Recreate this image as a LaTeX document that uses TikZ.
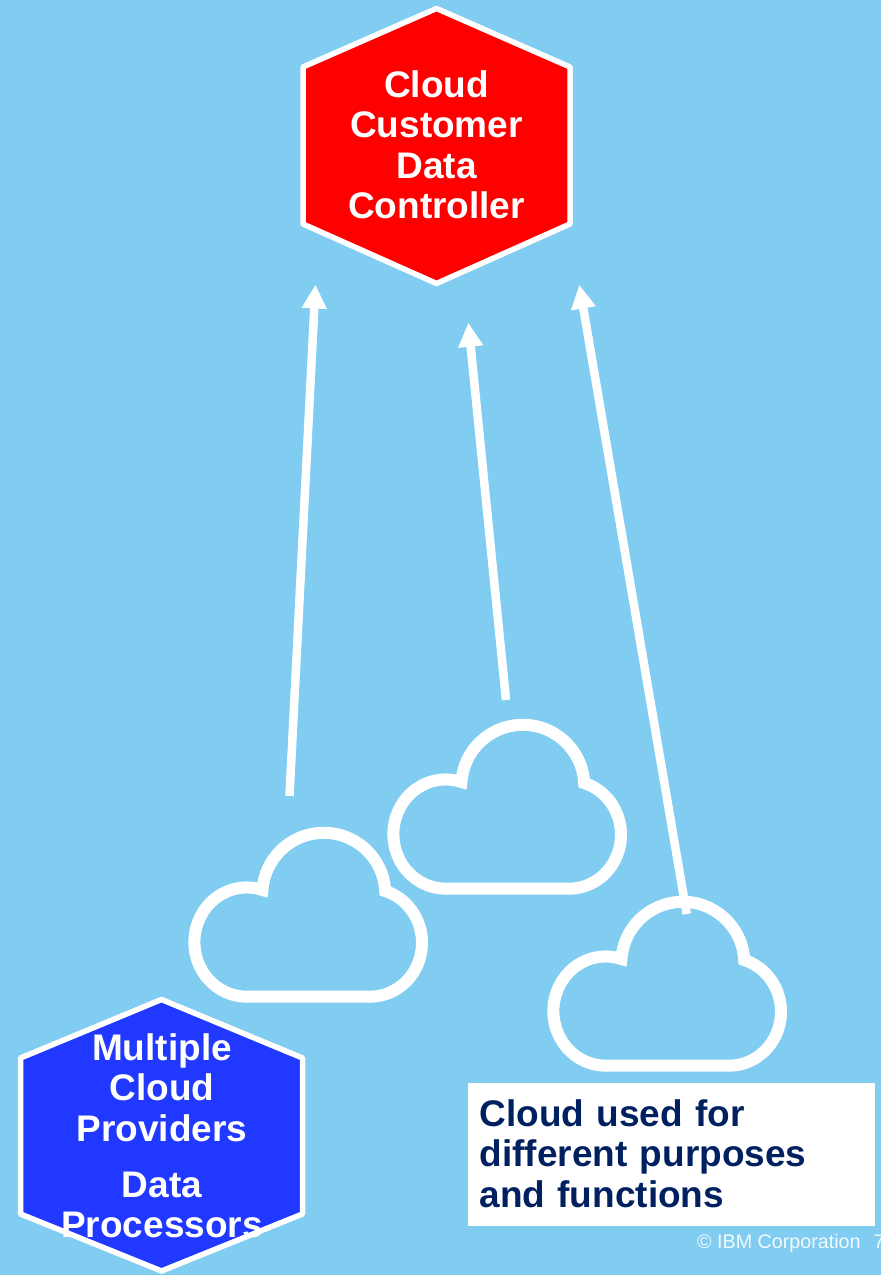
\documentclass[tikz,border=0pt]{standalone}
\usepackage{fontspec}
\setmainfont{Liberation Sans}
\usepackage{tikz}
\usetikzlibrary{arrows.meta}

\definecolor{skyback}{HTML}{81CCF1}
\definecolor{ctrlred}{HTML}{FF0000}
\definecolor{provblue}{HTML}{2038FF}
\definecolor{notenavy}{HTML}{012060}

\tikzset{
    hexbox/.style={draw=white, line width=5.5pt, line join=round},
    hextext/.style={align=center, text=white, inner sep=0pt, font=\fontsize{37}{40.5}\selectfont\bfseries},
    flow/.style={draw=white, line width=8.5pt, -{Triangle[length=24pt,width=23.5pt]}},
    cloudline/.style={draw=white, line width=12pt, line join=miter},
    cloudshape/.pic={
        \draw[cloudline] (60,0) -- (123.3,0) arc (-90:73:52 and 54) arc (3:176:61.5) arc (72.5:270:52.33 and 54.62) -- cycle;
    }
}

\begin{document}
\begin{tikzpicture}[x=1pt, y=1pt]
    \path[use as bounding box, fill=skyback] (0,0) rectangle (881,1275);

    \pic (cloudA) at (246.7,278.3) {cloudshape};
    \pic (cloudB) at (445.7,386.3) {cloudshape};
    \pic (cloudC) at (605.7,209.3) {cloudshape};

    \draw[hexbox, fill=ctrlred] (436.5,1266.5) -- (570,1208) -- (570,1051) -- (436.5,991.5) -- (303,1051) -- (303,1208) -- cycle;
    \node[hextext] (ctrl) at (436.5,1130) {Cloud\\Customer\\Data\\Controller};

    \draw[hexbox, fill=provblue] (161.5,275.5) -- (302.5,217) -- (302.5,61) -- (161.5,4) -- (20.5,61) -- (20.5,217) -- cycle;
    \node[hextext] (prov) at (162,139) {Multiple\\Cloud\\Providers\\[15.5pt]Data\\Processors};

    \node[fill=white, text=notenavy, align=left, text width=384pt, inner xsep=11.5pt, inner ysep=0pt, minimum height=143pt, font=\fontsize{37}{40.5}\selectfont\bfseries] (note) at (671.5,120.8) {Cloud used for\\different purposes\\and functions\rule[-2pt]{0pt}{2pt}};

    \node[anchor=base west, inner sep=0pt, text=white!90!skyback, font=\fontsize{19.7}{24}\selectfont] (copy) at (697,27) {© IBM Corporation\hspace{13pt}7};

    \coordinate (tailA) at (289.5,479);
    \coordinate (headA) at (315.5,990.5);
    \coordinate (tailB) at (506,575);
    \coordinate (headB) at (468.3,952.3);
    \coordinate (tailC) at (686.7,361);
    \coordinate (headC) at (579.3,990.3);

    \draw[flow] (tailA) -- (headA);
    \draw[flow] (tailB) -- (headB);
    \draw[flow] (tailC) -- (headC);
\end{tikzpicture}
\end{document}
